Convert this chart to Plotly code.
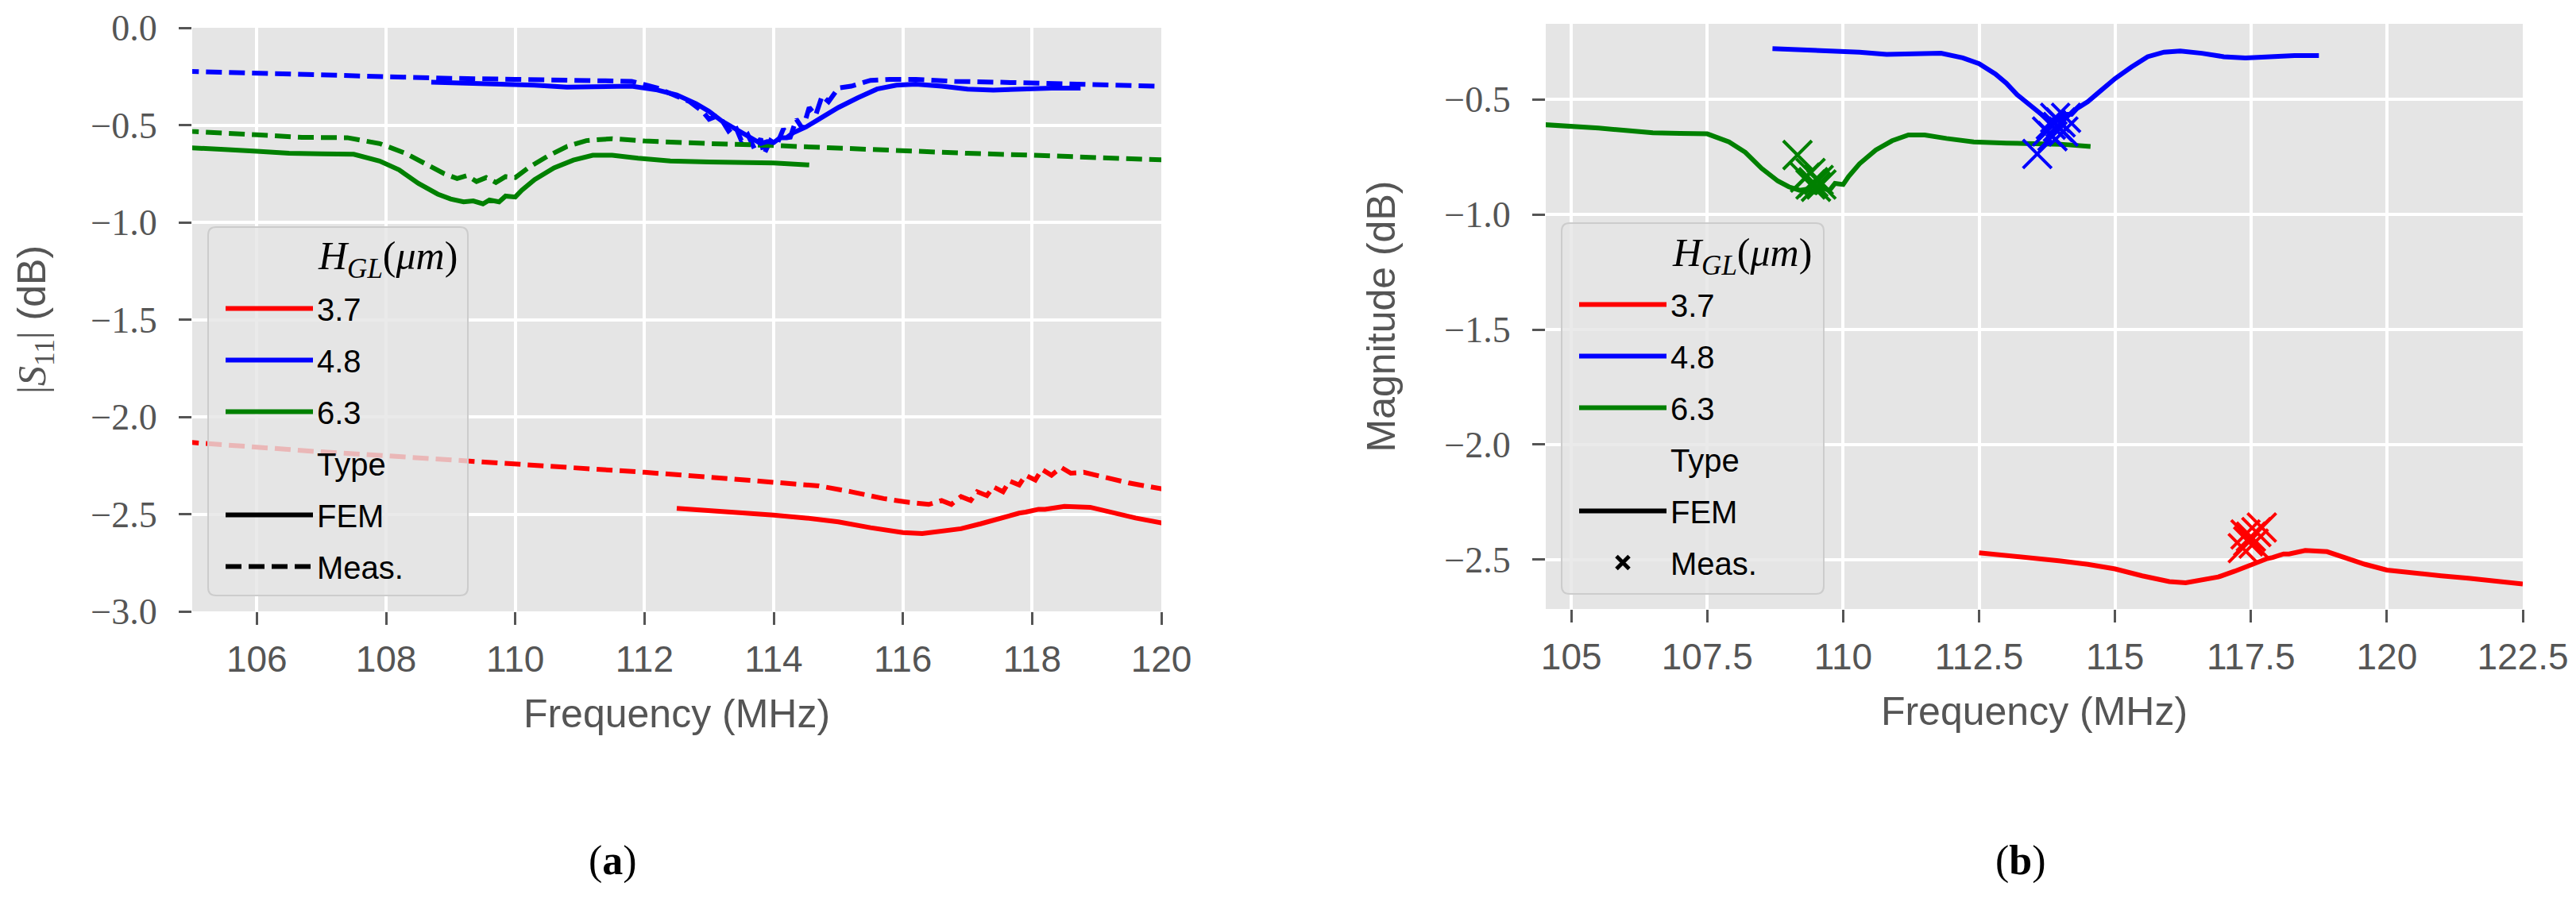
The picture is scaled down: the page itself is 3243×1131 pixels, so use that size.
import plotly.graph_objects as go

# ---------------- data ----------------
# FEM curves (same in both panels)
fem_37_f = [112.5, 113.0, 113.5, 114.0, 114.5, 115.0, 115.5, 116.0, 116.3, 116.6, 116.9, 117.2, 117.5, 117.6,
            117.8, 117.9, 118.1, 118.2, 118.5, 118.9, 119.2, 119.6, 120.0, 120.5, 121.0, 121.5, 122.0, 122.5]
fem_37_v = [-2.47, -2.48, -2.495, -2.505, -2.52, -2.54, -2.57, -2.595, -2.60, -2.59, -2.575, -2.55, -2.52, -2.51,
            -2.495, -2.49, -2.475, -2.475, -2.46, -2.465, -2.49, -2.52, -2.545, -2.56, -2.57, -2.58, -2.59, -2.605]

fem_48_f = [108.7, 109.5, 110.3, 110.8, 111.3, 111.8, 112.2, 112.5, 112.8, 113.0, 113.2, 113.4, 113.6, 113.7,
            113.8, 113.9, 114.0, 114.1, 114.2, 114.3, 114.5, 114.7, 115.0, 115.3, 115.6, 115.9, 116.2, 116.6,
            117.0, 117.4, 117.8, 118.3, 118.75]
fem_48_v = [-0.28, -0.285, -0.295, -0.305, -0.30, -0.30, -0.32, -0.345, -0.39, -0.43, -0.48, -0.52, -0.56, -0.575,
            -0.595, -0.585, -0.59, -0.565, -0.565, -0.54, -0.51, -0.47, -0.41, -0.36, -0.315, -0.295, -0.29, -0.30,
            -0.315, -0.32, -0.315, -0.31, -0.31]

fem_63_f = [104.5, 105.0, 105.5, 106.0, 106.5, 107.0, 107.5, 107.9, 108.2, 108.5, 108.8, 109.0, 109.2, 109.35,
            109.5, 109.6, 109.75, 109.85, 110.0, 110.1, 110.3, 110.6, 110.9, 111.2, 111.5, 111.9, 112.4, 113.0,
            113.6, 114.0, 114.55]
fem_63_v = [-0.61, -0.615, -0.625, -0.635, -0.645, -0.648, -0.65, -0.685, -0.73, -0.80, -0.855, -0.88, -0.895, -0.89,
            -0.905, -0.885, -0.895, -0.865, -0.87, -0.835, -0.78, -0.72, -0.68, -0.655, -0.655, -0.67, -0.685, -0.69,
            -0.69, -0.695, -0.705]

# Measured sweeps (panel a)
meas_37_f = [104.5, 105, 106, 107, 108, 109, 110, 111, 112, 113, 114, 114.7, 115.2, 115.7, 116.1, 116.4, 116.6,
             116.75, 116.9, 117.05, 117.15, 117.3, 117.4, 117.55, 117.65, 117.8, 117.9, 118.05, 118.15, 118.3,
             118.45, 118.6, 118.8, 119.1, 119.5, 120.0, 120.5]
meas_37_v = [-2.12, -2.133, -2.16, -2.18, -2.20, -2.22, -2.245, -2.265, -2.285, -2.31, -2.335, -2.355, -2.385,
             -2.42, -2.44, -2.45, -2.43, -2.45, -2.41, -2.43, -2.385, -2.405, -2.36, -2.385, -2.33, -2.35, -2.30,
             -2.325, -2.27, -2.30, -2.26, -2.29, -2.285, -2.31, -2.34, -2.37, -2.40]

meas_48_f = [104.5, 105, 106, 107, 108, 109, 110, 111, 111.8, 112.2, 112.5, 112.7, 112.9, 113.0, 113.15, 113.3,
             113.4, 113.5, 113.6, 113.7, 113.8, 113.85, 113.95, 114.05, 114.15, 114.25, 114.35, 114.45, 114.55,
             114.65, 114.75, 114.85, 115.0, 115.2, 115.5, 115.8, 116.2, 116.8, 117.5, 118.2, 119, 120, 120.5]
meas_48_v = [-0.22, -0.225, -0.235, -0.245, -0.255, -0.26, -0.265, -0.27, -0.275, -0.31, -0.35, -0.38, -0.43,
             -0.47, -0.45, -0.53, -0.50, -0.58, -0.55, -0.62, -0.57, -0.65, -0.58, -0.60, -0.52, -0.57, -0.47,
             -0.52, -0.41, -0.45, -0.35, -0.38, -0.31, -0.30, -0.27, -0.265, -0.265, -0.275, -0.28, -0.285, -0.29,
             -0.30, -0.305]

meas_63_f = [104.5, 105, 106, 106.7, 107.4, 107.9, 108.3, 108.6, 108.9, 109.1, 109.25, 109.4, 109.55, 109.7,
             109.85, 110.0, 110.2, 110.5, 110.8, 111.1, 111.5, 112.0, 112.5, 113, 114, 115, 116, 117, 118, 119,
             120, 120.5]
meas_63_v = [-0.52, -0.533, -0.55, -0.563, -0.565, -0.595, -0.645, -0.70, -0.75, -0.775, -0.76, -0.79, -0.77,
             -0.795, -0.765, -0.77, -0.72, -0.66, -0.61, -0.58, -0.57, -0.582, -0.59, -0.595, -0.605, -0.62,
             -0.635, -0.645, -0.655, -0.665, -0.678, -0.685]

# Measured resonance points (panel b)
pts_37_f = [117.35, 117.45, 117.5, 117.6, 117.7, 117.55, 117.4]
pts_37_v = [-2.45, -2.42, -2.40, -2.38, -2.36, -2.43, -2.39]
pts_48_f = [113.57, 113.75, 113.82, 113.9, 113.95, 114.0, 114.05, 113.85, 114.1]
pts_48_v = [-0.737, -0.64, -0.61, -0.58, -0.62, -0.60, -0.64, -0.66, -0.58]
pts_63_f = [109.16, 109.3, 109.4, 109.45, 109.5, 109.55, 109.6, 109.4]
pts_63_v = [-0.742, -0.84, -0.87, -0.86, -0.88, -0.85, -0.87, -0.82]

labels = ["3.7", "4.8", "6.3"]
colors = ["#ff0000", "#0000ff", "#008000"]
legend_title = "<i>H</i><sub><i>GL</i></sub>(<i>μm</i>)"

fem = [(fem_37_f, fem_37_v), (fem_48_f, fem_48_v), (fem_63_f, fem_63_v)]
meas = [(meas_37_f, meas_37_v), (meas_48_f, meas_48_v), (meas_63_f, meas_63_v)]
pts = [(pts_37_f, pts_37_v), (pts_48_f, pts_48_v), (pts_63_f, pts_63_v)]

# ---------------- figure ----------------
PAGE_W, PAGE_H = 3243, 1131
BODY = 8                      # default page body margin
W, H = PAGE_W - 2 * BODY, PAGE_H - 2 * BODY


def px(xp):
    return (xp - BODY) / W


def py(yp):
    return 1 - (yp - BODY) / H


LW = 6
DASH = "20px,9px"
TXT = "#555555"

fig = go.Figure()

for i, lab in enumerate(labels):
    fig.add_trace(go.Scatter(x=meas[i][0], y=meas[i][1], mode="lines",
                             line=dict(color=colors[i], width=LW, dash=DASH),
                             showlegend=False, xaxis="x", yaxis="y"))
for i, lab in enumerate(labels):
    fig.add_trace(go.Scatter(x=fem[i][0], y=fem[i][1], mode="lines", name=lab,
                             line=dict(color=colors[i], width=LW),
                             legend="legend", legendgroup="a" + lab, xaxis="x", yaxis="y"))

for i, lab in enumerate(labels):
    fig.add_trace(go.Scatter(x=fem[i][0], y=fem[i][1], mode="lines", name=lab,
                             line=dict(color=colors[i], width=LW),
                             legend="legend2", legendgroup="b" + lab, xaxis="x2", yaxis="y2"))
for i, lab in enumerate(labels):
    fig.add_trace(go.Scatter(x=pts[i][0], y=pts[i][1], mode="markers",
                             marker=dict(symbol="x-thin", size=36, line=dict(color=colors[i], width=4)),
                             showlegend=False, xaxis="x2", yaxis="y2"))

# legend-only entries
for leg, ax, sfx in (("legend", ("x", "y"), "a"), ("legend2", ("x2", "y2"), "b")):
    fig.add_trace(go.Scatter(x=[None], y=[None], mode="lines", name="Type",
                             line=dict(color="rgba(0,0,0,0)", width=LW),
                             legend=leg, legendgroup=sfx + "type", xaxis=ax[0], yaxis=ax[1]))
    fig.add_trace(go.Scatter(x=[None], y=[None], mode="lines", name="FEM",
                             line=dict(color="black", width=LW),
                             legend=leg, legendgroup=sfx + "fem", xaxis=ax[0], yaxis=ax[1]))
    if leg == "legend":
        fig.add_trace(go.Scatter(x=[None], y=[None], mode="lines", name="Meas.",
                                 line=dict(color="black", width=LW, dash=DASH),
                                 legend=leg, legendgroup=sfx + "meas", xaxis=ax[0], yaxis=ax[1]))
    else:
        fig.add_trace(go.Scatter(x=[None], y=[None], mode="markers", name="Meas.",
                                 marker=dict(symbol="x-thin", size=36, line=dict(color="black", width=5)),
                                 legend=leg, legendgroup=sfx + "meas", xaxis=ax[0], yaxis=ax[1]))

sans = "Liberation Sans"
serif = "Liberation Serif"

common_x = dict(showgrid=True, gridcolor="white", gridwidth=4, zeroline=False, showline=False,
                ticks="outside", ticklen=16, tickwidth=3, tickcolor=TXT,
                tickfont=dict(family=sans, size=46, color=TXT), ticklabelstandoff=4)
common_y = dict(showgrid=True, gridcolor="white", gridwidth=4, zeroline=False, showline=False,
                ticks="outside", ticklen=16, tickwidth=3, tickcolor=TXT, tickformat=".1f",
                tickfont=dict(family=serif, size=46, color=TXT), ticklabelstandoff=18)

leg_common = dict(xanchor="left", yanchor="top", bgcolor="rgba(0,0,0,0)",
                  borderwidth=0, traceorder="grouped", tracegroupgap=10,
                  font=dict(family=sans, size=40, color="black"), itemwidth=110)


def rounded_box(x0, y0, x1, y1, r=10):
    """Rounded rectangle path in paper coordinates from page-pixel corners."""
    X0, X1 = px(x0), px(x1)
    Y0, Y1 = py(y1), py(y0)   # bottom, top
    rx, ry = r / W, r / H
    return (f"M{X0 + rx},{Y0} L{X1 - rx},{Y0} Q{X1},{Y0} {X1},{Y0 + ry} "
            f"L{X1},{Y1 - ry} Q{X1},{Y1} {X1 - rx},{Y1} "
            f"L{X0 + rx},{Y1} Q{X0},{Y1} {X0},{Y1 - ry} "
            f"L{X0},{Y0 + ry} Q{X0},{Y0} {X0 + rx},{Y0} Z")


# legend frames (matplotlib-style translucent box drawn over the curves)
frames = [(262, 286, 589, 750), (1966, 281, 2296, 748)]
shapes = []
for (x0, y0, x1, y1) in frames:
    shapes.append(dict(type="path", xref="paper", yref="paper", layer="above",
                       path=rounded_box(x0, y0, x1, y1),
                       fillcolor="rgba(229,229,229,0.8)", line=dict(color="#cccccc", width=2)))

annotations = [
    dict(text="(<b>a</b>)", x=px(771), y=py(1084), xref="paper", yref="paper", showarrow=False,
         font=dict(family=serif, size=52, color="black"), xanchor="center", yanchor="middle"),
    dict(text="(<b>b</b>)", x=px(2544), y=py(1084), xref="paper", yref="paper", showarrow=False,
         font=dict(family=serif, size=52, color="black"), xanchor="center", yanchor="middle"),
    dict(text=legend_title, x=px(488), y=py(326), xref="paper", yref="paper", showarrow=False,
         font=dict(family=serif, size=50, color="black"), xanchor="center", yanchor="middle"),
    dict(text=legend_title, x=px(2193), y=py(322), xref="paper", yref="paper", showarrow=False,
         font=dict(family=serif, size=50, color="black"), xanchor="center", yanchor="middle"),
]

fig.update_layout(
    width=W, height=H,
    margin=dict(l=0, r=0, t=0, b=0, autoexpand=False),
    paper_bgcolor="white", plot_bgcolor="#e5e5e5",
    xaxis=dict(domain=[px(242), px(1462)], range=[105, 120], dtick=2, tick0=0,
               title=dict(text="Frequency (MHz)", font=dict(family=sans, size=50, color=TXT), standoff=25),
               anchor="y", **common_x),
    yaxis=dict(domain=[py(770), py(35)], range=[-3, 0], dtick=0.5, tick0=0,
               title=dict(text="<span style='font-family:Liberation Serif'>|<i>S</i><sub>11</sub>|</span> (dB)",
                          font=dict(family=sans, size=50, color=TXT), standoff=40),
               anchor="x", **common_y),
    xaxis2=dict(domain=[px(1946), px(3176)], range=[104.53, 122.5], dtick=2.5, tick0=0,
                title=dict(text="Frequency (MHz)", font=dict(family=sans, size=50, color=TXT), standoff=25),
                anchor="y2", **common_x),
    yaxis2=dict(domain=[py(767), py(30)], range=[-2.714, -0.172], dtick=0.5, tick0=0,
                title=dict(text="Magnitude (dB)", font=dict(family=sans, size=50, color=TXT), standoff=45),
                anchor="x2", **common_y),
    legend=dict(x=px(279), y=py(356), **leg_common),
    legend2=dict(x=px(1983), y=py(351), **leg_common),
    shapes=shapes,
    annotations=annotations,
)

fig.write_html("out.html")
